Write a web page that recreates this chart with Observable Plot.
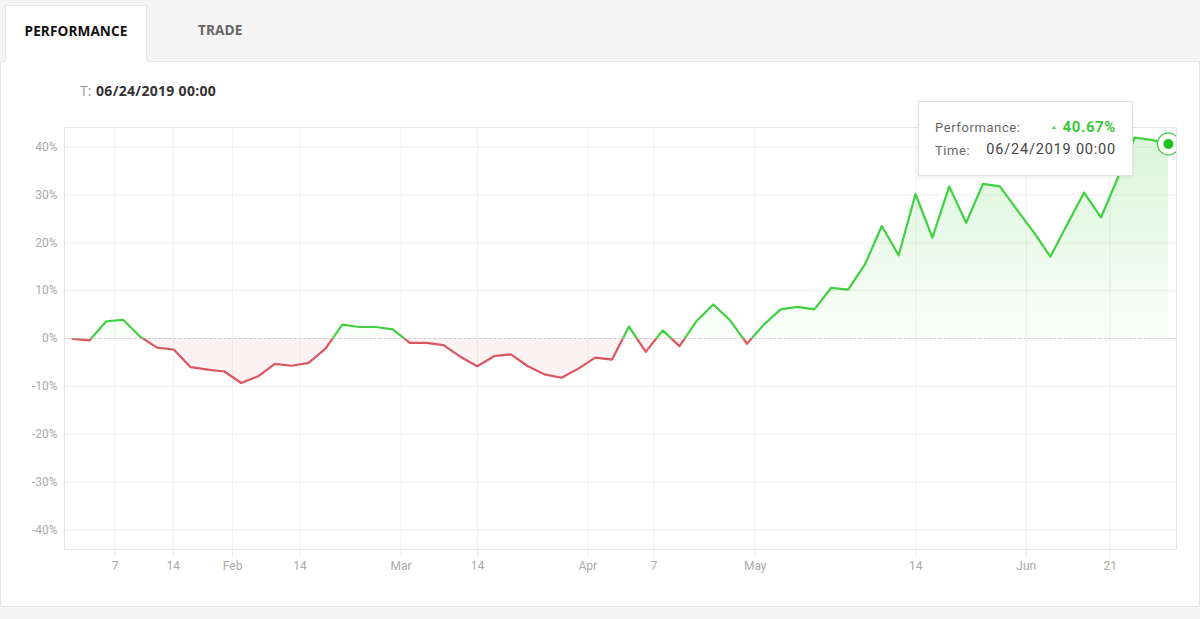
<!DOCTYPE html>
<html>
<head>
<meta charset="utf-8">
<script src="https://cdn.jsdelivr.net/npm/d3@7"></script>
<script src="https://cdn.jsdelivr.net/npm/@observablehq/plot@0.6"></script>
<style>
  html, body { margin: 0; padding: 0; }
  body { width: 1200px; height: 619px; overflow: hidden; background: #f4f4f4; position: relative; font-family: "Open Sans", sans-serif; }
  .tabs { position: absolute; left: 0; top: 0; width: 1200px; height: 61px; background: #f4f4f4; }
  .tab { position: absolute; top: 5px; height: 56px; font-weight: 700; font-size: 13.6px; line-height: 50px; letter-spacing: 0.1px; }
  .tab1 { left: 5px; width: 142px; background: #fff; color: #111; text-align: center; border: 1px solid #e8e8e8; border-bottom: none; box-sizing: border-box; z-index: 2; height: 57px; }
  .tab2 { left: 198px; color: #666; }
  .card { position: absolute; left: 0; top: 61px; width: 1200px; height: 546px; background: #fff; border: 1px solid #e8e8e8; box-sizing: border-box; }
  .stamp { position: absolute; left: 80px; top: 81px; font-size: 14px; color: #999; }
  .stamp b { color: #333; font-weight: 700; margin-left: 1px; letter-spacing: 0.3px; }
  #chart { position: absolute; left: 0; top: 100px; }
  .tip { position: absolute; left: 918px; top: 101px; width: 215px; height: 75px; box-sizing: border-box; background: #fff; border: 1px solid #e2e2e2; box-shadow: 0 1px 4px rgba(0,0,0,0.08); font-family: Roboto, sans-serif; z-index: 5; }
  .tip .row { position: absolute; left: 16px; right: 16px; font-size: 13px; color: #666; letter-spacing: 0.6px; }
  .tip .r1 { top: 18px; }
  .tip .r2 { top: 41px; }
  .tip .val { position: absolute; right: 0; top: -2px; }
  .tip .pct { color: #3cc83c; font-weight: 700; font-size: 15px; letter-spacing: 0.6px; }
  .tip .arr { font-size: 6px; vertical-align: 3px; margin-right: 5px; }
  .tip .time { color: #444; font-size: 14.5px; letter-spacing: 0.8px; }
</style>
</head>
<body>
<div class="tabs">
  <div class="tab tab1">PERFORMANCE</div>
  <div class="tab tab2">TRADE</div>
</div>
<div class="card"></div>
<div class="stamp">T: <b id="stampDate"></b></div>
<div id="chart"></div>
<div class="tip">
  <div class="row r1">Performance:<span class="val pct"><span class="arr">▲</span><span id="tipPct"></span></span></div>
  <div class="row r2">Time:<span class="val time" id="tipTime"></span></div>
</div>
<script>
// Performance (%) per data point, in order
const values = [-0.1, -0.4, 3.6, 3.9, 0.4, -1.9, -2.3, -6.0, -6.5, -6.9,
  -9.3, -7.9, -5.3, -5.7, -5.1, -2.1, 2.9, 2.4, 2.4, 1.9,
  -0.9, -0.9, -1.4, -3.8, -5.8, -3.7, -3.3, -5.8, -7.5, -8.2,
  -6.3, -4.0, -4.4, 2.5, -2.8, 1.7, -1.6, 3.6, 7.1, 3.8,
  -1.1, 2.9, 6.1, 6.6, 6.1, 10.6, 10.2, 15.5, 23.5, 17.4,
  30.2, 21.1, 31.8, 24.2, 32.3, 31.8, 27.0, 22.3, 17.1, 23.9,
  30.5, 25.3, 33.6, 42.0, 41.5, 40.67];
// x tick positions (in data-point index units) and their labels
const tickIdx = [2.52, 5.97, 9.49, 13.49, 19.48, 24.02, 30.56, 34.48, 40.49, 50.02, 56.57, 61.55];
const tickLabels = ["7", "14", "Feb", "14", "Mar", "14", "Apr", "7", "May", "14", "Jun", "21"];
const yTicks = [-40, -30, -20, -10, 0, 10, 20, 30, 40];
const lastTime = "06/24/2019 00:00";

const GREEN = "#3fd13f", RED = "#dc5662";
const data = values.map((v, i) => ({i, v}));
const last = data[data.length - 1];
const labelMap = new Map(tickIdx.map((t, k) => [t, tickLabels[k]]));

document.getElementById("stampDate").textContent = lastTime;
document.getElementById("tipTime").textContent = lastTime;
document.getElementById("tipPct").textContent = last.v.toFixed(2) + "%";

const plot = Plot.plot({
  width: 1200, height: 490,
  marginLeft: 64, marginRight: 24, marginTop: 27, marginBottom: 41,
  style: {fontFamily: "Roboto, sans-serif", fontSize: "12px", background: "transparent", overflow: "visible"},
  x: {domain: [-0.48, values.length - 1 + 0.48], axis: null, label: null},
  y: {domain: [-44.1, 44.1], axis: null, label: null},
  marks: [
    Plot.ruleY(yTicks, {stroke: "#efefef"}),
    Plot.ruleX(tickIdx, {stroke: "#efefef"}),
    Plot.frame({stroke: "#e6e6e6"}),
    Plot.areaY(data, {x: "i", y: "v", fill: "url(#perfArea)"}),
    Plot.ruleY([0], {stroke: "#cccccc", strokeDasharray: "2,3"}),
    Plot.line(data, {x: "i", y: "v", stroke: GREEN, strokeWidth: 2.2}),
    Plot.line(data, {x: "i", y: "v", stroke: RED, strokeWidth: 2.2}),
    Plot.dot([last], {x: "i", y: "v", r: 11, fill: "white", stroke: GREEN, strokeWidth: 1.2, clip: true}),
    Plot.dot([last], {x: "i", y: "v", r: 5, fill: "#1ec41e", clip: true}),
    Plot.axisX(tickIdx, {tickSize: 8, tickPadding: 4, stroke: "#ececec", fill: "#aaa", tickFormat: d => labelMap.get(d), label: null}),
    Plot.axisY(yTicks, {tickSize: 0, tickPadding: 7, fill: "#aaa", tickFormat: d => d + "%", label: null})
  ]
});

// zero position from the y scale
const ys = plot.scale("y");
const yOf = v => ys.range[0] + (v - ys.domain[0]) / (ys.domain[1] - ys.domain[0]) * (ys.range[1] - ys.range[0]);
const y0 = yOf(0), yTop = yOf(ys.domain[1]), yBot = yOf(ys.domain[0]);

const svg = d3.select(plot);
const defs = svg.insert("defs", ":first-child");
const g = defs.append("linearGradient").attr("id", "perfArea").attr("gradientUnits", "userSpaceOnUse")
  .attr("x1", 0).attr("x2", 0).attr("y1", yTop).attr("y2", yBot);
const f0 = (y0 - yTop) / (yBot - yTop);
[[0, "rgb(60,205,60)", 0.2], [f0, "rgb(60,205,60)", 0.02], [f0, "rgb(220,86,98)", 0.07], [1, "rgb(220,86,98)", 0.12]]
  .forEach(([o, c, a]) => g.append("stop").attr("offset", o).attr("stop-color", c).attr("stop-opacity", a));
defs.append("clipPath").attr("id", "clipUp").append("rect").attr("x", 0).attr("y", -50).attr("width", 1200).attr("height", y0 + 50);
defs.append("clipPath").attr("id", "clipDown").append("rect").attr("x", 0).attr("y", y0).attr("width", 1200).attr("height", 600);
const lines = svg.selectAll('g[aria-label="line"]').nodes();
if (lines[0]) lines[0].setAttribute("clip-path", "url(#clipUp)");
if (lines[1]) lines[1].setAttribute("clip-path", "url(#clipDown)");

document.getElementById("chart").appendChild(plot);
</script>
</body>
</html>
